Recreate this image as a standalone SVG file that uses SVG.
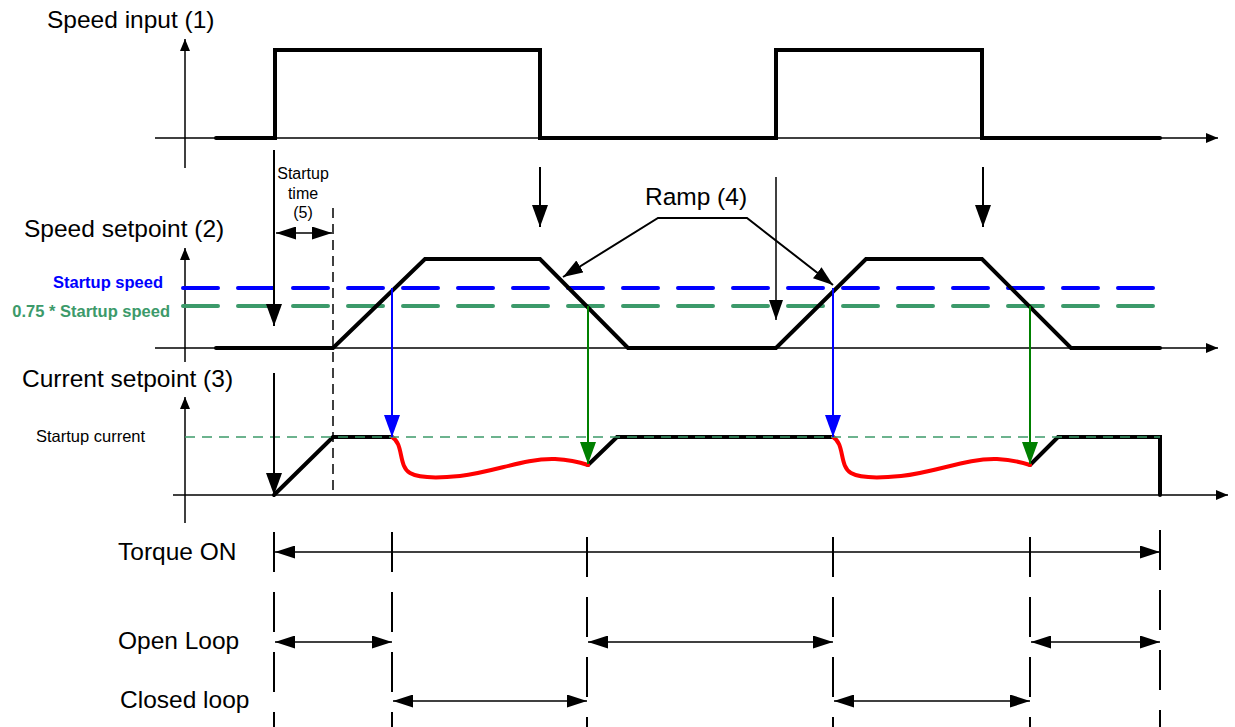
<svg xmlns="http://www.w3.org/2000/svg" width="1235" height="727" viewBox="0 0 1235 727">
<style>
.lbl{font-family:"Liberation Sans",Arial,sans-serif;font-size:24.5px;fill:#000}
.sm{font-family:"Liberation Sans",Arial,sans-serif;font-size:16px;fill:#000}
.bold{font-family:"Liberation Sans",Arial,sans-serif;font-size:16.5px;font-weight:bold}
.axis{stroke:#000;stroke-width:1.5;fill:none}
.sig{stroke:#000;stroke-width:4;fill:none;stroke-linejoin:miter;stroke-linecap:round}
.tick{stroke:#000;stroke-width:2;stroke-dasharray:40 20;fill:none}
.dim{stroke:#000;stroke-width:1.5;fill:none}
</style>
<defs>
<marker id="axArr" markerUnits="userSpaceOnUse" markerWidth="12" markerHeight="10" refX="12" refY="5" orient="auto"><path d="M0,0 L12,5 L0,10 z" fill="#000"/></marker>
<marker id="bigArr" markerUnits="userSpaceOnUse" markerWidth="22" markerHeight="16" refX="22" refY="8" orient="auto"><path d="M0,0 L22,8 L0,16 z" fill="#000"/></marker>
<marker id="medArr" markerUnits="userSpaceOnUse" markerWidth="20" markerHeight="14" refX="20" refY="7" orient="auto-start-reverse"><path d="M0,0 L20,7 L0,14 z" fill="#000"/></marker>
<marker id="blueArr" markerUnits="userSpaceOnUse" markerWidth="22" markerHeight="16" refX="22" refY="8" orient="auto"><path d="M0,0 L22,8 L0,16 z" fill="#0000FF"/></marker>
<marker id="greenArr" markerUnits="userSpaceOnUse" markerWidth="22" markerHeight="16" refX="22" refY="8" orient="auto"><path d="M0,0 L22,8 L0,16 z" fill="#008000"/></marker>
<marker id="dimArr" markerUnits="userSpaceOnUse" markerWidth="20" markerHeight="13" refX="20" refY="6.5" orient="auto-start-reverse"><path d="M0,0 L20,6.5 L0,13 z" fill="#000"/></marker>
</defs>
<rect width="1235" height="727" fill="#fff"/>

<g id="speed-input">
<text class="lbl" x="47" y="28">Speed input (1)</text>
<line class="axis" x1="185" y1="168" x2="185" y2="39" marker-end="url(#axArr)"/>
<line class="axis" x1="155" y1="138" x2="1218" y2="138" marker-end="url(#axArr)"/>
<polyline class="sig" points="216,138 275,138 275,50 540,50 540,138 776,138 776,50 982,50 982,138 1160,138"/>
</g>

<g id="speed-setpoint">
<text class="lbl" x="24" y="237">Speed setpoint (2)</text>
<line class="axis" x1="185" y1="362" x2="185" y2="248" marker-end="url(#axArr)"/>
<line class="axis" x1="155" y1="348" x2="1218" y2="348" marker-end="url(#axArr)"/>
<line x1="183" y1="288" x2="1162" y2="288" stroke="#0000FF" stroke-width="4" stroke-dasharray="35 20" stroke-linecap="round"/>
<line x1="183" y1="306" x2="1162" y2="306" stroke="#3C9A6A" stroke-width="4" stroke-dasharray="35 20" stroke-linecap="round"/>
<polyline class="sig" points="216,348 333,348 425,259 540,259 628,348 776,348 866,259 982,259 1071,348 1160,348"/>
<text class="bold" x="163" y="288" text-anchor="end" fill="#0000FF">Startup speed</text>
<text class="bold" x="170" y="317" text-anchor="end" fill="#3C9A6A">0.75 * Startup speed</text>
</g>

<g id="startup-time">
<text class="sm" x="303" y="179" text-anchor="middle">Startup</text>
<text class="sm" x="303" y="199" text-anchor="middle">time</text>
<text class="sm" x="303" y="218" text-anchor="middle">(5)</text>
<line x1="333" y1="208" x2="333" y2="492" stroke="#000" stroke-width="1.5" stroke-dasharray="10 6"/>
</g>

<g id="ramp-label">
<text class="lbl" x="696" y="205" text-anchor="middle">Ramp (4)</text>
</g>

<g id="current-setpoint">
<text class="lbl" x="22" y="387">Current setpoint (3)</text>
<text class="sm" x="36" y="442" style="font-size:16.5px">Startup current</text>
<line class="axis" x1="185" y1="523" x2="185" y2="397" marker-end="url(#axArr)"/>
<line class="axis" x1="173" y1="495" x2="1228" y2="495" marker-end="url(#axArr)"/>
<polyline class="sig" points="274,495 333,437 392,437"/>
<polyline class="sig" points="588,465 617,437 833,437"/>
<polyline class="sig" points="1030,465 1058,437 1160,437 1160,495"/>
<path d="M392,437 C404,444 398,466 410,473 C420,479 440,478 460,476 C495,472 525,458 555,459 C572,460 582,463 588,465" fill="none" stroke="#FF0000" stroke-width="4" stroke-linecap="round"/>
<path d="M833,437 C845,444 839,466 851,473 C861,479 881,478 901,476 C937,472 967,458 997,459 C1014,460 1024,463 1030,465" fill="none" stroke="#FF0000" stroke-width="4" stroke-linecap="round"/>
<line x1="185" y1="437" x2="1160" y2="437" stroke="#3C9A6A" stroke-width="1.5" stroke-dasharray="10 7"/>
</g>

<g id="timeline">
<text class="lbl" x="118" y="560">Torque ON</text>
<text class="lbl" x="118" y="649">Open Loop</text>
<text class="lbl" x="120" y="708">Closed loop</text>
<line class="tick" x1="274" y1="532" x2="274" y2="727"/>
<line class="tick" x1="392" y1="532" x2="392" y2="727"/>
<line class="tick" x1="587" y1="537" x2="587" y2="727"/>
<line class="tick" x1="833" y1="537" x2="833" y2="727"/>
<line class="tick" x1="1030" y1="537" x2="1030" y2="727"/>
<line class="tick" x1="1160" y1="530" x2="1160" y2="727"/>
</g>

<g id="connectors">
<line x1="274" y1="150" x2="274" y2="326" stroke="#000" stroke-width="2" marker-end="url(#bigArr)"/>
<line x1="274" y1="373" x2="274" y2="495" stroke="#000" stroke-width="2" marker-end="url(#bigArr)"/>
<line x1="540" y1="167" x2="540" y2="227" stroke="#000" stroke-width="2" marker-end="url(#bigArr)"/>
<line x1="983" y1="167" x2="983" y2="227" stroke="#000" stroke-width="2" marker-end="url(#bigArr)"/>
<line x1="776" y1="177" x2="776" y2="320" stroke="#000" stroke-width="1.5" marker-end="url(#medArr)"/>
<polyline points="563,277 658,218 747,218 833,285" fill="none" stroke="#000" stroke-width="2" marker-start="url(#medArr)" marker-end="url(#medArr)"/>
<line x1="276" y1="233" x2="332" y2="233" class="dim" marker-start="url(#dimArr)" marker-end="url(#dimArr)"/>
<line x1="392" y1="288" x2="392" y2="437" stroke="#0000FF" stroke-width="2" marker-end="url(#blueArr)"/>
<line x1="588" y1="306" x2="588" y2="464" stroke="#008000" stroke-width="2" marker-end="url(#greenArr)"/>
<line x1="833" y1="288" x2="833" y2="437" stroke="#0000FF" stroke-width="2" marker-end="url(#blueArr)"/>
<line x1="1030" y1="306" x2="1030" y2="464" stroke="#008000" stroke-width="2" marker-end="url(#greenArr)"/>
<line x1="275" y1="552" x2="1160" y2="552" class="dim" marker-start="url(#dimArr)" marker-end="url(#dimArr)"/>
<line x1="275" y1="642" x2="392" y2="642" class="dim" marker-start="url(#dimArr)" marker-end="url(#dimArr)"/>
<line x1="588" y1="642" x2="833" y2="642" class="dim" marker-start="url(#dimArr)" marker-end="url(#dimArr)"/>
<line x1="1031" y1="642" x2="1160" y2="642" class="dim" marker-start="url(#dimArr)" marker-end="url(#dimArr)"/>
<line x1="393" y1="701" x2="587" y2="701" class="dim" marker-start="url(#dimArr)" marker-end="url(#dimArr)"/>
<line x1="834" y1="701" x2="1030" y2="701" class="dim" marker-start="url(#dimArr)" marker-end="url(#dimArr)"/>
</g>
</svg>
